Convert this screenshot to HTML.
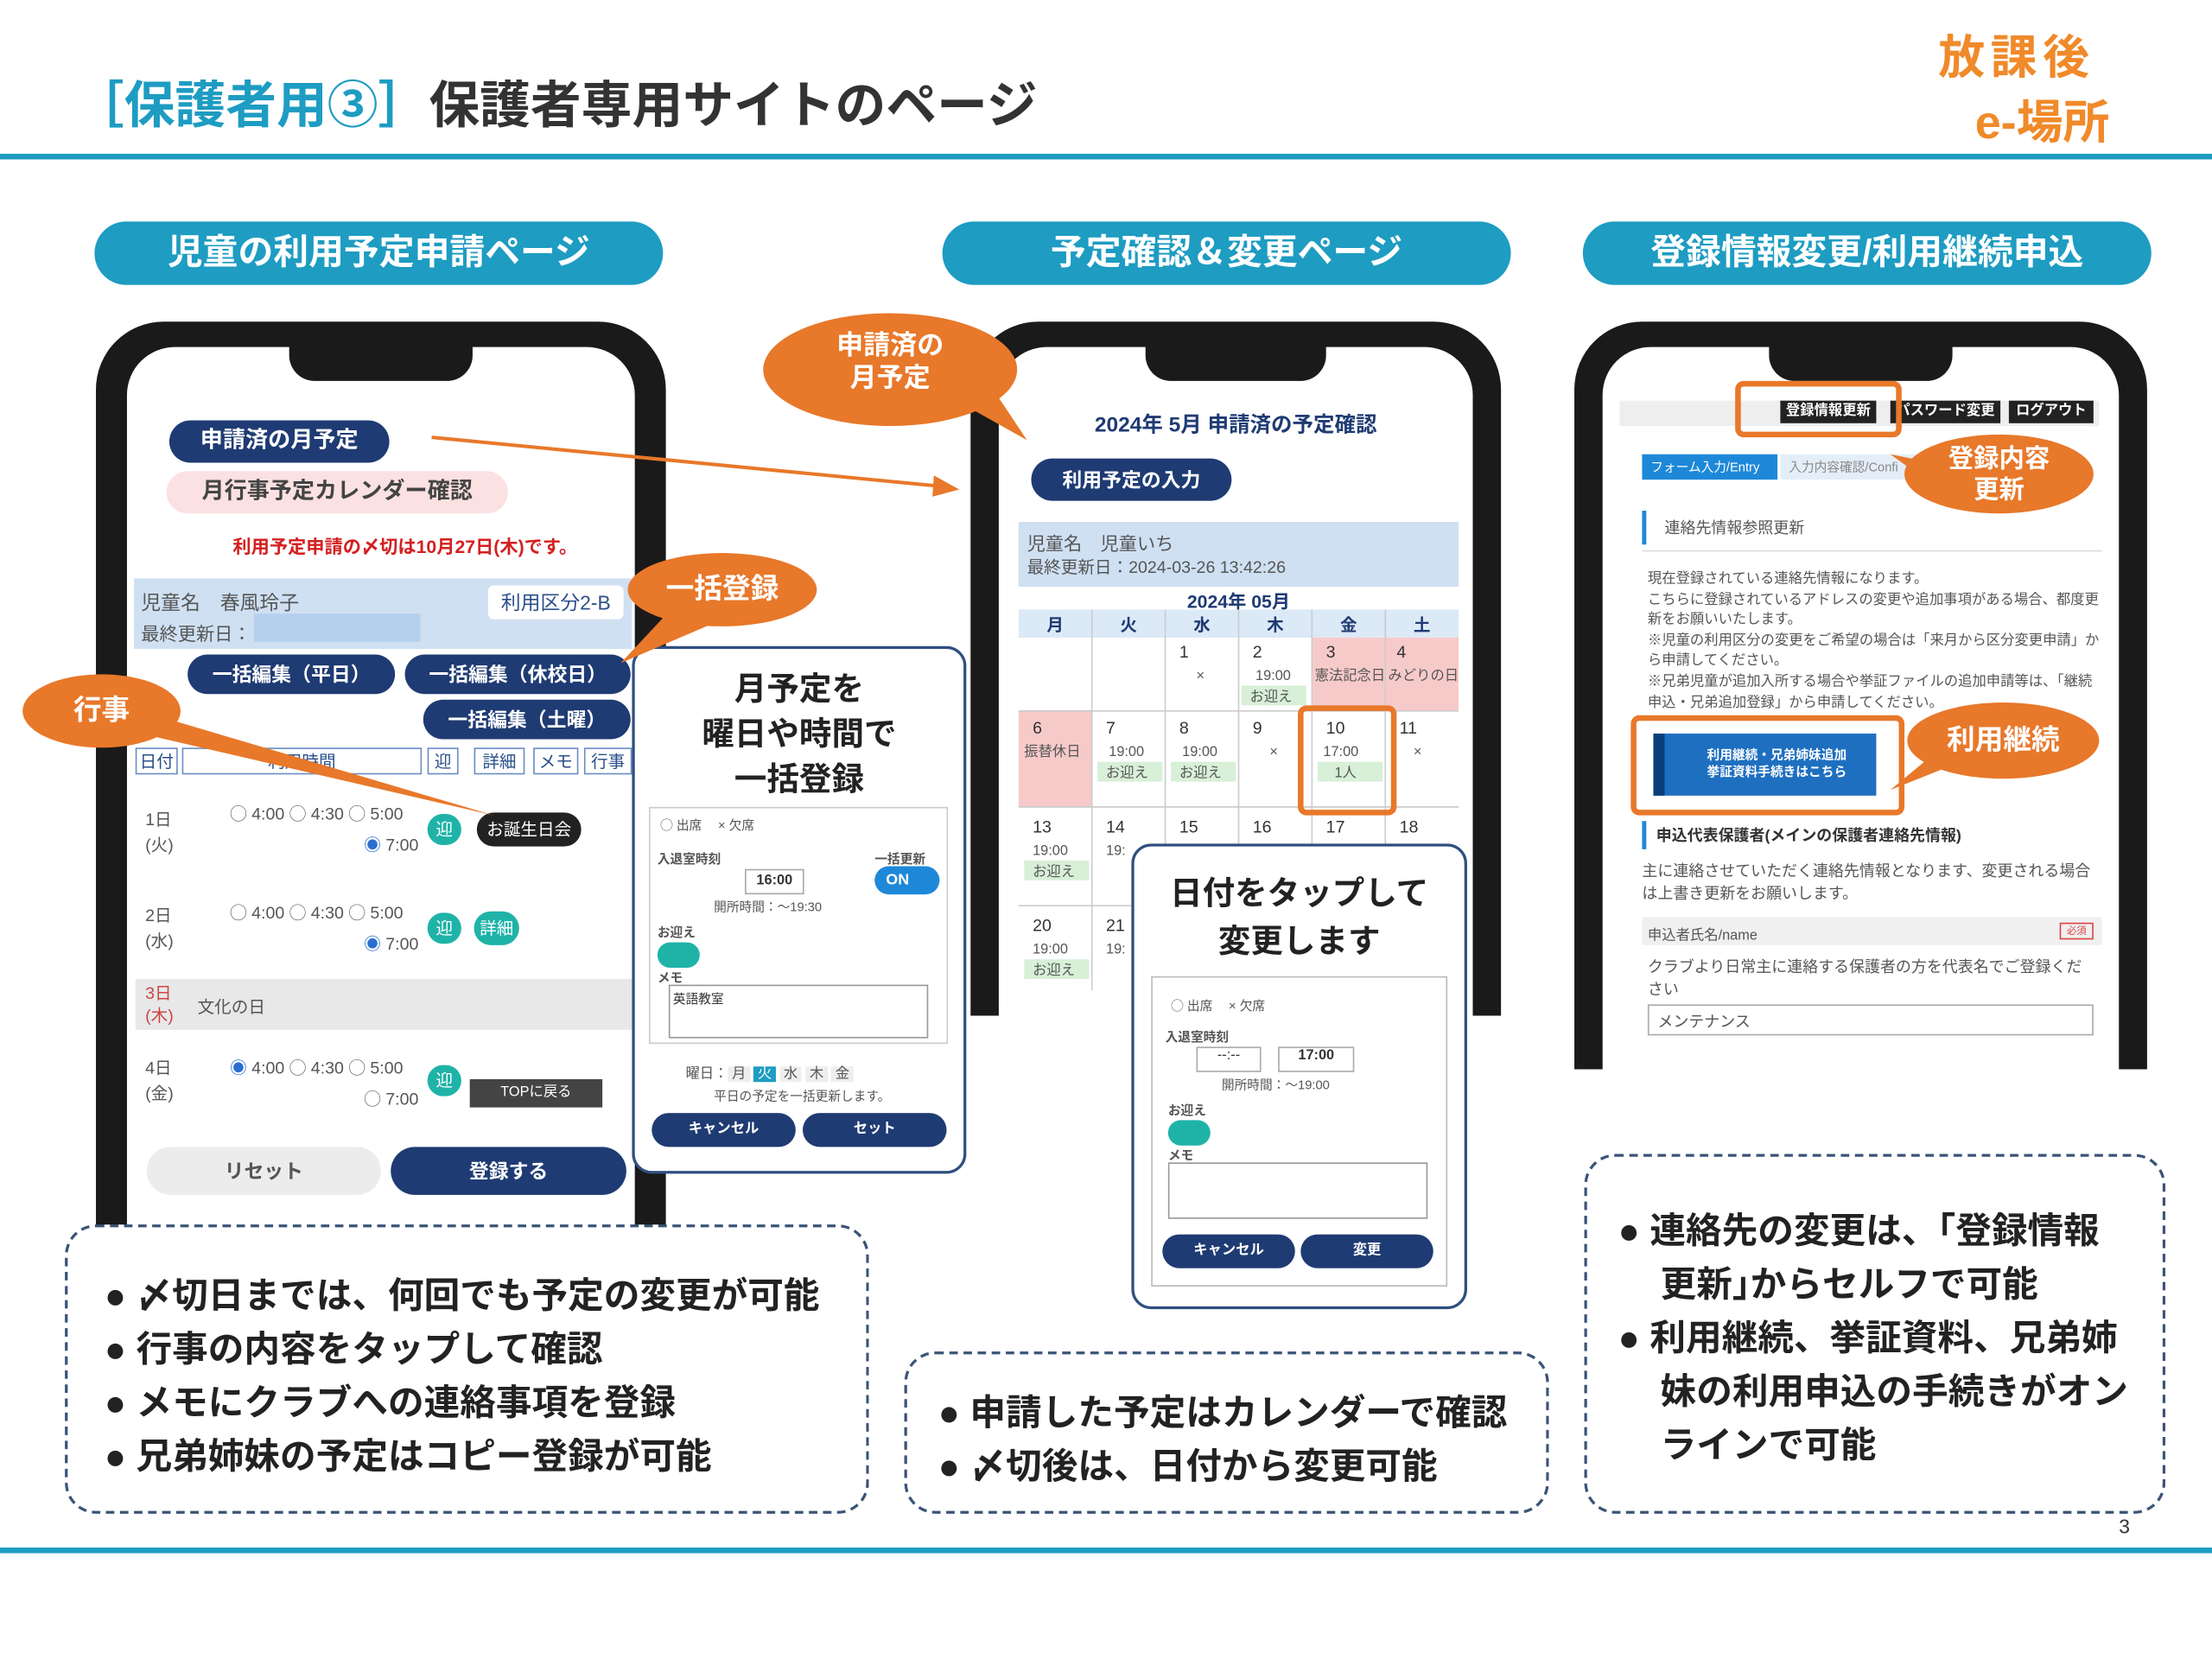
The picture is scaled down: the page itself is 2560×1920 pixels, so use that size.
<!DOCTYPE html>
<html><head><meta charset="utf-8"><style>
*{margin:0;padding:0;box-sizing:border-box}
html,body{width:2560px;height:1920px;overflow:hidden;background:#fff}
#w{position:absolute;left:0;top:0;width:1568px;height:1176px;transform:scale(1.63265);transform-origin:0 0;font-family:"Liberation Sans","Noto Sans CJK JP",sans-serif;color:#333}
.a{position:absolute}
.hdr{position:absolute;top:157px;width:403px;height:45px;border-radius:23px;background:#1e9cc2;color:#fff;font-size:25px;font-weight:bold;text-align:center;line-height:45px}
.phone{position:absolute;background:#1a1a1a;border-radius:48px 48px 0 0}
.scr{position:absolute;background:#fff;border-radius:34px 34px 0 0;overflow:hidden}
.notch{position:absolute;background:#1a1a1a;border-radius:0 0 18px 18px}
.navy{background:#1f3b73;color:#fff;font-weight:bold;text-align:center;border-radius:16px}
.or{position:absolute;background:#e8782a;color:#fff;font-weight:bold;text-align:center;border-radius:50%}
.box{position:absolute;border:2px dashed #3b5378;border-radius:22px}
.box li{list-style:none;font-size:25.5px;font-weight:bold;color:#222;line-height:38px;padding-left:30px;text-indent:-30px;white-space:nowrap}
.pop{position:absolute;background:#fff;border:2px solid #2f4f80;border-radius:14px}
.hl{position:absolute;border:4px solid #e8782a;border-radius:6px}
.c{position:absolute;font-size:12px;color:#555}
</style></head><body><div id="w">
<!-- title -->
<div class="a" style="left:52px;top:46px;font-size:36px;font-weight:bold;white-space:nowrap"><span style="color:#1e9cc2">［保護者用③］</span><span style="color:#333">保護者専用サイトのページ</span></div>
<div class="a" style="left:1374px;top:14px;font-size:33px;font-weight:bold;color:#f08a2a;letter-spacing:4px">放課後</div>
<div class="a" style="left:1400px;top:60px;font-size:33px;font-weight:bold;color:#f08a2a">e-場所</div>
<div class="a" style="left:0;top:109px;width:1568px;height:4px;background:#1e9cc2"></div>
<div class="a" style="left:0;top:1097px;width:1568px;height:4px;background:#1e9cc2"></div>
<div class="a" style="left:1502px;top:1074px;font-size:14px;color:#333">3</div>

<div class="hdr" style="left:67px">児童の利用予定申請ページ</div>
<div class="hdr" style="left:668px">予定確認＆変更ページ</div>
<div class="hdr" style="left:1122px">登録情報変更/利用継続申込</div>

<!-- phone 1 -->
<div class="phone" style="left:68px;top:228px;width:404px;height:650px"></div>
<div class="scr" style="left:90px;top:246px;width:360px;height:632px"></div>
<div class="notch" style="left:205px;top:244px;width:130px;height:26px"></div>
<div class="a navy" style="left:120px;top:298px;width:156px;height:30px;line-height:30px;font-size:16px">申請済の月予定</div>
<div class="a" style="left:118px;top:334px;width:242px;height:30px;line-height:30px;border-radius:15px;background:#fbe1e1;font-size:16px;font-weight:bold;text-align:center;color:#444">月行事予定カレンダー確認</div>
<div class="a" style="left:165px;top:377px;font-size:13px;color:#d42020;font-weight:bold">利用予定申請の〆切は10月27日(木)です。</div>
<div class="a" style="left:95px;top:410px;width:353px;height:50px;background:#cfe0f2"></div>
<div class="c" style="left:100px;top:417px;font-size:14px">児童名　春風玲子</div>
<div class="c" style="left:100px;top:439px;font-size:13px">最終更新日：</div>
<div class="a" style="left:180px;top:435px;width:118px;height:20px;background:#b5d0ee"></div>
<div class="a" style="left:346px;top:415px;width:96px;height:24px;background:#fff;border-radius:4px;font-size:14px;text-align:center;line-height:24px;color:#2a4f8a">利用区分2-B</div>
<div class="a navy" style="left:133px;top:464px;width:147px;height:28px;line-height:28px;font-size:14px">一括編集（平日）</div>
<div class="a navy" style="left:287px;top:464px;width:160px;height:28px;line-height:28px;font-size:14px">一括編集（休校日）</div>
<div class="a navy" style="left:300px;top:496px;width:147px;height:28px;line-height:28px;font-size:14px">一括編集（土曜）</div>
<div class="a" style="left:96px;top:530px;width:352px;height:20px;font-size:12px;color:#2a4f8a">
<span class="a" style="left:0;width:30px;border:1px solid #6b8fc4;text-align:center">日付</span>
<span class="a" style="left:33px;width:170px;border:1px solid #6b8fc4;text-align:center">利用時間</span>
<span class="a" style="left:207px;width:22px;border:1px solid #6b8fc4;text-align:center">迎</span>
<span class="a" style="left:240px;width:36px;border:1px solid #6b8fc4;text-align:center">詳細</span>
<span class="a" style="left:282px;width:32px;border:1px solid #6b8fc4;text-align:center">メモ</span>
<span class="a" style="left:318px;width:34px;border:1px solid #6b8fc4;text-align:center">行事</span></div>
<div class="c" style="left:103px;top:572px;line-height:18px">1日<br>(火)</div>
<div class="c" style="left:163px;top:568px;font-size:12px">◯ 4:00 ◯ 4:30 ◯ 5:00</div>
<div class="c" style="left:258px;top:590px;font-size:12px"><span style="color:#2a6fd0">◉</span> 7:00</div>
<div class="a" style="left:303px;top:577px;width:24px;height:22px;border-radius:11px;background:#1fb3a8;color:#fff;font-size:12px;text-align:center;line-height:22px">迎</div>
<div class="a" style="left:338px;top:576px;width:74px;height:24px;border-radius:12px;background:#222;color:#fff;font-size:12px;text-align:center;line-height:24px">お誕生日会</div>
<div class="c" style="left:103px;top:640px;line-height:18px">2日<br>(水)</div>
<div class="c" style="left:163px;top:638px;font-size:12px">◯ 4:00 ◯ 4:30 ◯ 5:00</div>
<div class="c" style="left:258px;top:660px;font-size:12px"><span style="color:#2a6fd0">◉</span> 7:00</div>
<div class="a" style="left:303px;top:647px;width:24px;height:22px;border-radius:11px;background:#1fb3a8;color:#fff;font-size:12px;text-align:center;line-height:22px">迎</div>
<div class="a" style="left:336px;top:646px;width:32px;height:24px;border-radius:12px;background:#1fb3a8;color:#fff;font-size:12px;text-align:center;line-height:24px">詳細</div>
<div class="a" style="left:96px;top:694px;width:352px;height:36px;background:#e8e8e8"></div>
<div class="c" style="left:103px;top:696px;line-height:16px;color:#c44">3日<br>(木)</div>
<div class="c" style="left:140px;top:705px">文化の日</div>
<div class="c" style="left:103px;top:748px;line-height:18px">4日<br>(金)</div>
<div class="c" style="left:163px;top:748px;font-size:12px"><span style="color:#2a6fd0">◉</span> 4:00 ◯ 4:30 ◯ 5:00</div>
<div class="c" style="left:258px;top:770px;font-size:12px">◯ 7:00</div>
<div class="a" style="left:303px;top:755px;width:24px;height:22px;border-radius:11px;background:#1fb3a8;color:#fff;font-size:12px;text-align:center;line-height:22px">迎</div>
<div class="a" style="left:333px;top:765px;width:94px;height:20px;background:#444;color:#fff;font-size:10px;text-align:center;line-height:20px">TOPに戻る</div>
<div class="a" style="left:104px;top:813px;width:166px;height:34px;border-radius:17px;background:#ececec;font-size:14px;font-weight:bold;text-align:center;line-height:34px;color:#555">リセット</div>
<div class="a navy" style="left:277px;top:813px;width:167px;height:34px;line-height:34px;font-size:14px;border-radius:17px">登録する</div>

<!-- popup 1 -->
<div class="pop" style="left:448px;top:458px;width:237px;height:374px"></div>
<div class="a" style="left:448px;top:472px;width:237px;text-align:center;font-size:23px;font-weight:bold;line-height:32px;color:#222">月予定を<br>曜日や時間で<br>一括登録</div>
<div class="a" style="left:460px;top:572px;width:212px;height:168px;border:1px solid #ccc"></div>
<div class="c" style="left:468px;top:578px;font-size:9px">◯ 出席　 × 欠席</div>
<div class="c" style="left:466px;top:602px;font-size:9px;font-weight:bold">入退室時刻</div>
<div class="c" style="left:620px;top:602px;font-size:9px;font-weight:bold">一括更新</div>
<div class="a" style="left:620px;top:614px;width:46px;height:20px;border-radius:10px;background:#1e88d8;color:#fff;font-size:11px;font-weight:bold;line-height:20px;padding-left:8px">ON</div>
<div class="a" style="left:528px;top:616px;width:42px;height:18px;border:1px solid #aaa;font-size:10px;text-align:center;line-height:16px;font-weight:bold">16:00</div>
<div class="c" style="left:506px;top:636px;font-size:9px">開所時間：～19:30</div>
<div class="c" style="left:466px;top:654px;font-size:9px;font-weight:bold">お迎え</div>
<div class="a" style="left:466px;top:668px;width:30px;height:18px;border-radius:9px;background:#1fb3a8"></div>
<div class="c" style="left:466px;top:686px;font-size:9px;font-weight:bold">メモ</div>
<div class="a" style="left:474px;top:698px;width:184px;height:38px;border:1px solid #999;font-size:9px;padding:2px">英語教室</div>
<div class="c" style="left:486px;top:752px;font-size:10px">曜日：<span style="background:#eee">&nbsp;月&nbsp;</span> <span style="background:#1e9cc2;color:#fff">&nbsp;火&nbsp;</span> <span style="background:#eee">&nbsp;水&nbsp;</span> <span style="background:#eee">&nbsp;木&nbsp;</span> <span style="background:#eee">&nbsp;金&nbsp;</span></div>
<div class="c" style="left:506px;top:770px;font-size:9px">平日の予定を一括更新します。</div>
<div class="a navy" style="left:462px;top:789px;width:102px;height:24px;line-height:24px;font-size:10px;border-radius:12px">キャンセル</div>
<div class="a navy" style="left:569px;top:789px;width:102px;height:24px;line-height:24px;font-size:10px;border-radius:12px">セット</div>

<!-- phone 2 -->
<div class="phone" style="left:688px;top:228px;width:376px;height:492px"></div>
<div class="scr" style="left:708px;top:246px;width:336px;height:474px"></div>
<div class="notch" style="left:812px;top:244px;width:128px;height:26px"></div>
<div class="a" style="left:708px;top:290px;width:336px;text-align:center;font-size:15px;font-weight:bold;color:#1f3b73">2024年 5月 申請済の予定確認</div>
<div class="a navy" style="left:731px;top:325px;width:142px;height:30px;line-height:30px;font-size:14px;border-radius:15px">利用予定の入力</div>
<div class="a" style="left:722px;top:370px;width:312px;height:46px;background:#cfe0f2"></div>
<div class="c" style="left:728px;top:375px;font-size:13px">児童名　児童いち</div>
<div class="c" style="left:728px;top:393px;font-size:12px">最終更新日：2024-03-26 13:42:26</div>
<div class="a" style="left:722px;top:416px;width:312px;text-align:center;font-size:13px;font-weight:bold;color:#1f3b73">2024年 05月</div>
<svg class="a" style="left:722px;top:432px" width="312" height="270">
<rect x="0" y="0" width="312" height="20" fill="#dce9f7"/>
<g font-size="12" font-weight="bold" fill="#1f3b73" font-family="Liberation Sans,Noto Sans CJK JP,sans-serif" text-anchor="middle">
<text x="26" y="15">月</text><text x="78" y="15">火</text><text x="130" y="15">水</text><text x="182" y="15">木</text><text x="234" y="15">金</text><text x="286" y="15">土</text></g>
<rect x="208" y="20" width="104" height="52" fill="#f7caca"/>
<rect x="0" y="72" width="52" height="68" fill="#f7caca"/>
<g stroke="#ccc" fill="none"><path d="M52 0V270M104 0V270M156 0V270M208 0V270M260 0V270M0 72H312M0 140H312M0 210H312"/></g>
<g font-size="12" fill="#333" font-family="Liberation Sans,sans-serif">
<text x="114" y="34">1</text><text x="166" y="34">2</text><text x="218" y="34">3</text><text x="268" y="34">4</text>
<text x="10" y="88">6</text><text x="62" y="88">7</text><text x="114" y="88">8</text><text x="166" y="88">9</text><text x="218" y="88">10</text><text x="270" y="88">11</text>
<text x="10" y="158">13</text><text x="62" y="158">14</text><text x="114" y="158">15</text><text x="166" y="158">16</text><text x="218" y="158">17</text><text x="270" y="158">18</text>
<text x="10" y="228">20</text><text x="62" y="228">21</text></g>
<g font-size="10" fill="#555" font-family="Liberation Sans,Noto Sans CJK JP,sans-serif">
<text x="126" y="50">×</text><text x="168" y="50">19:00</text><text x="210" y="50">憲法記念日</text><text x="262" y="50">みどりの日</text>
<rect x="158" y="54" width="46" height="14" fill="#d8efd8"/><text x="164" y="65">お迎え</text>
<text x="4" y="104">振替休日</text><text x="64" y="104">19:00</text><text x="116" y="104">19:00</text><text x="178" y="104">×</text><text x="216" y="104">17:00</text><text x="280" y="104">×</text>
<rect x="56" y="108" width="46" height="14" fill="#d8efd8"/><text x="62" y="119">お迎え</text>
<rect x="108" y="108" width="46" height="14" fill="#d8efd8"/><text x="114" y="119">お迎え</text>
<rect x="212" y="108" width="46" height="14" fill="#d8efd8"/><text x="224" y="119">1人</text>
<text x="10" y="174">19:00</text><text x="62" y="174">19:</text>
<rect x="4" y="178" width="46" height="14" fill="#d8efd8"/><text x="10" y="189">お迎え</text>
<text x="10" y="244">19:00</text><text x="62" y="244">19:</text>
<rect x="4" y="248" width="46" height="14" fill="#d8efd8"/><text x="10" y="259">お迎え</text></g>
</svg>
<div class="hl" style="left:920px;top:500px;width:70px;height:78px"></div>

<!-- popup 2 -->
<div class="pop" style="left:802px;top:598px;width:238px;height:330px"></div>
<div class="a" style="left:802px;top:616px;width:238px;text-align:center;font-size:23px;font-weight:bold;line-height:34px;color:#222">日付をタップして<br>変更します</div>
<div class="a" style="left:816px;top:692px;width:210px;height:220px;border:1px solid #bbb"></div>
<div class="c" style="left:830px;top:706px;font-size:9px">◯ 出席　 × 欠席</div>
<div class="c" style="left:826px;top:728px;font-size:9px;font-weight:bold">入退室時刻</div>
<div class="a" style="left:848px;top:742px;width:46px;height:18px;border:1px solid #aaa;font-size:10px;text-align:center">--:--</div>
<div class="a" style="left:906px;top:742px;width:54px;height:18px;border:1px solid #aaa;font-size:10px;text-align:center;font-weight:bold">17:00</div>
<div class="c" style="left:866px;top:762px;font-size:9px">開所時間：～19:00</div>
<div class="c" style="left:828px;top:780px;font-size:9px;font-weight:bold">お迎え</div>
<div class="a" style="left:828px;top:794px;width:30px;height:18px;border-radius:9px;background:#1fb3a8"></div>
<div class="c" style="left:828px;top:812px;font-size:9px;font-weight:bold">メモ</div>
<div class="a" style="left:828px;top:824px;width:184px;height:40px;border:1px solid #999"></div>
<div class="a navy" style="left:824px;top:875px;width:94px;height:24px;line-height:24px;font-size:10px;border-radius:12px">キャンセル</div>
<div class="a navy" style="left:922px;top:875px;width:94px;height:24px;line-height:24px;font-size:10px;border-radius:12px">変更</div>

<!-- phone 3 -->
<div class="phone" style="left:1116px;top:228px;width:406px;height:530px"></div>
<div class="scr" style="left:1136px;top:246px;width:366px;height:512px"></div>
<div class="notch" style="left:1254px;top:244px;width:130px;height:26px"></div>
<div class="a" style="left:1148px;top:284px;width:340px;height:18px;background:#eee"></div>
<div class="a" style="left:1262px;top:284px;width:68px;height:16px;background:#222;color:#fff;font-size:10px;text-align:center;line-height:16px;font-weight:bold">登録情報更新</div>
<div class="a" style="left:1340px;top:284px;width:78px;height:16px;background:#222;color:#fff;font-size:10px;text-align:center;line-height:16px;font-weight:bold">パスワード変更</div>
<div class="a" style="left:1424px;top:284px;width:60px;height:16px;background:#222;color:#fff;font-size:10px;text-align:center;line-height:16px;font-weight:bold">ログアウト</div>
<div class="hl" style="left:1230px;top:270px;width:118px;height:40px"></div>
<div class="a" style="left:1164px;top:322px;width:96px;height:18px;background:#1e88d8;color:#fff;font-size:9px;line-height:18px;padding-left:6px">フォーム入力/Entry</div>
<div class="a" style="left:1262px;top:322px;width:100px;height:18px;background:#e4eef8;color:#888;font-size:9px;line-height:18px;padding-left:6px">入力内容確認/Confi</div>
<div class="a" style="left:1164px;top:362px;width:3px;height:24px;background:#1e88d8"></div>
<div class="c" style="left:1180px;top:366px;font-size:11px">連絡先情報参照更新</div>
<div class="a" style="left:1164px;top:390px;width:326px;height:1px;background:#ddd"></div>
<div class="c" style="left:1168px;top:404px;font-size:10px;line-height:14.6px;width:322px">現在登録されている連絡先情報になります。<br>こちらに登録されているアドレスの変更や追加事項がある場合、都度更新をお願いいたします。<br>※児童の利用区分の変更をご希望の場合は「来月から区分変更申請」から申請してください。<br>※兄弟児童が追加入所する場合や挙証ファイルの追加申請等は、「継続申込・兄弟追加登録」から申請してください。</div>
<div class="a" style="left:1172px;top:520px;width:158px;height:44px;background:#1e6fc0;color:#fff;font-size:9px;font-weight:bold;line-height:12px;padding:9px 0 0 30px;border-left:8px solid #0b3f7a">利用継続・兄弟姉妹追加<br>挙証資料手続きはこちら</div>
<div class="hl" style="left:1156px;top:507px;width:194px;height:71px"></div>
<div class="a" style="left:1164px;top:582px;width:3px;height:20px;background:#1e88d8"></div>
<div class="c" style="left:1174px;top:584px;font-size:11px;font-weight:bold;color:#333">申込代表保護者(メインの保護者連絡先情報)</div>
<div class="c" style="left:1164px;top:610px;font-size:11px;line-height:16px;width:326px">主に連絡させていただく連絡先情報となります、変更される場合は上書き更新をお願いします。</div>
<div class="a" style="left:1164px;top:650px;width:326px;height:20px;background:#f0f0f0"></div>
<div class="c" style="left:1168px;top:654px;font-size:10px">申込者氏名/name</div>
<div class="a" style="left:1460px;top:654px;width:24px;height:12px;border:1px solid #d44;color:#d44;font-size:7px;text-align:center">必須</div>
<div class="c" style="left:1168px;top:678px;font-size:11px;line-height:16px;width:318px">クラブより日常主に連絡する保護者の方を代表名でご登録ください</div>
<div class="a" style="left:1168px;top:712px;width:316px;height:22px;border:1px solid #aaa;font-size:11px;padding:3px 6px;color:#555">メンテナンス</div>

<!-- orange callouts -->
<svg class="a" style="left:0;top:0" width="1568" height="1176">
<g stroke="#e8782a" stroke-width="2.5" fill="none"><path d="M306 310L670 345"/></g>
<path d="M662 337L680 347L661 352Z" fill="#e8782a"/>
<path d="M680 285L728 312L700 270Z" fill="#e8782a"/>
<path d="M470 438L440 470L510 440Z" fill="#e8782a"/>
<path d="M100 520L350 578L120 510Z" fill="#e8782a"/>
<path d="M1365 340L1340 322L1380 330Z" fill="#e8782a"/>
<path d="M1370 535L1340 560L1390 540Z" fill="#e8782a"/>
</svg>
<div class="or" style="left:541px;top:222px;width:180px;height:80px;font-size:19px;line-height:23px;padding-top:12px">申請済の<br>月予定</div>
<div class="or" style="left:445px;top:392px;width:134px;height:52px;font-size:20px;line-height:52px">一括登録</div>
<div class="or" style="left:16px;top:478px;width:112px;height:52px;font-size:20px;line-height:52px">行事</div>
<div class="or" style="left:1350px;top:308px;width:134px;height:56px;font-size:18px;line-height:22px;padding-top:6px">登録内容<br>更新</div>
<div class="or" style="left:1352px;top:498px;width:136px;height:54px;font-size:20px;line-height:54px">利用継続</div>

<!-- dashed boxes -->
<div class="box" style="left:46px;top:868px;width:570px;height:205px;background:#fff;padding:30px 0 0 26px"><ul>
<li>● 〆切日までは、何回でも予定の変更が可能</li><li>● 行事の内容をタップして確認</li><li>● メモにクラブへの連絡事項を登録</li><li>● 兄弟姉妹の予定はコピー登録が可能</li></ul></div>
<div class="box" style="left:641px;top:958px;width:457px;height:115px;background:#fff;padding:23px 0 0 22px"><ul>
<li>● 申請した予定はカレンダーで確認</li><li>● 〆切後は、日付から変更可能</li></ul></div>
<div class="box" style="left:1123px;top:818px;width:412px;height:255px;background:#fff;padding:34px 0 0 22px"><ul>
<li>● 連絡先の変更は、｢登録情報<br>更新｣からセルフで可能</li><li>● 利用継続、挙証資料、兄弟姉<br>妹の利用申込の手続きがオン<br>ラインで可能</li></ul></div>
</div></body></html>
